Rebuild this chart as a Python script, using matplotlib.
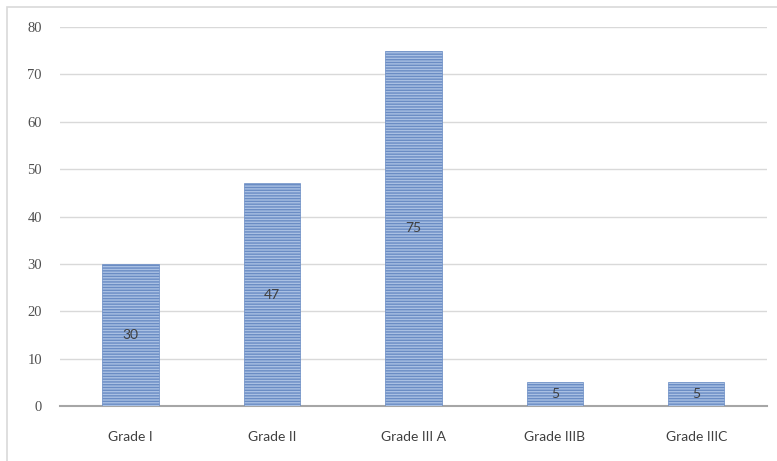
import matplotlib.pyplot as plt
import numpy as np
from matplotlib.patches import Rectangle

grades = ['Grade I', 'Grade II', 'Grade III A', 'Grade IIIB', 'Grade IIIC']
counts = [30, 47, 75, 5, 5]
y_ticks = [0, 10, 20, 30, 40, 50, 60, 70, 80]

plt.rcParams['hatch.linewidth'] = 1.0
plt.rcParams['hatch.color'] = '#6386c0'

fig = plt.figure(figsize=(7.77, 4.61), dpi=100)
ax = fig.add_axes([0.0772, 0.1193, 0.9098, 0.8221])

# outer chart frame (runs off the right and bottom edges)
fig.patches.append(Rectangle((7 / 777, -0.1), 1.1, (461 - 7) / 461 + 0.1,
                             transform=fig.transFigure, fill=False,
                             edgecolor='#d9d9d9', linewidth=1.2))

ind = np.arange(len(grades))
bars = ax.bar(ind, counts, 0.4, color='#a9c0e3', edgecolor='#6a8cc4',
              hatch='------', linewidth=0.5, zorder=3)

for i, v in enumerate(counts):
    ax.text(i, v / 2, str(v), ha='center', va='center', fontsize=10,
            family='Lato', color='#404040', zorder=4)

ax.set_xlim(-0.5, len(grades) - 0.5)
ax.set_ylim(0, 80)
ax.set_yticks(y_ticks)
ax.set_yticklabels([str(t) for t in y_ticks], family='Liberation Serif',
                   fontsize=10.5, color='#505050')
ax.set_xticks(ind)
ax.set_xticklabels(grades, family='Lato', fontsize=10, color='#404040')
ax.tick_params(axis='both', length=0)
ax.tick_params(axis='y', pad=13)
ax.tick_params(axis='x', pad=18)

ax.yaxis.grid(True, color='#d9d9d9', linewidth=1.0, zorder=0)
for side in ['top', 'right', 'left']:
    ax.spines[side].set_visible(False)
ax.spines['bottom'].set_color('#a6a6a6')
ax.spines['bottom'].set_linewidth(1.5)

fig.savefig('out.png', dpi=100)
